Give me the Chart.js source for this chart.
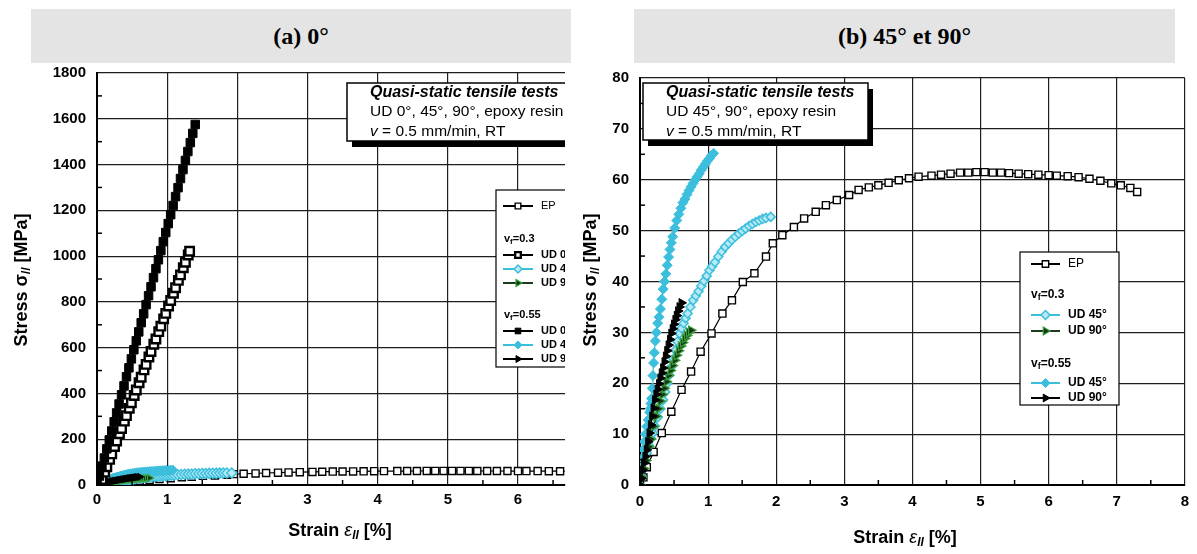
<!DOCTYPE html>
<html><head><meta charset="utf-8">
<script src="https://cdn.jsdelivr.net/npm/chart.js@4.4.0/dist/chart.umd.min.js"></script>
<style>
html,body{margin:0;padding:0;background:#fff;width:1197px;height:554px;overflow:hidden;}
.hdr{position:absolute;top:9px;height:54px;background:#e4e4e4;font:bold 24px "Liberation Serif","Times New Roman",serif;display:flex;align-items:center;justify-content:center;color:#000;z-index:2}
#wrapA{position:absolute;left:0;top:0;width:580px;height:554px}
#wrapB{position:absolute;left:580px;top:0;width:617px;height:554px}
</style></head><body>
<div class="hdr" style="left:31px;width:540px">(a) 0°</div>
<div class="hdr" style="left:634px;width:541px">(b) 45° et 90°</div>
<div id="wrapA"><canvas id="cA" width="580" height="554"></canvas></div>
<div id="wrapB"><canvas id="cB" width="617" height="554"></canvas></div>
<script>
// ---------------- DATA ----------------
const epStrain = [0, 0.05, 0.1, 0.2, 0.32, 0.46, 0.61, 0.75, 0.89, 1.05, 1.21, 1.35, 1.51, 1.68, 1.85, 1.95, 2.09, 2.26, 2.41, 2.58, 2.73, 2.89, 3.07, 3.21, 3.36, 3.5, 3.65, 3.8, 3.95, 4.09, 4.28, 4.42, 4.56, 4.7, 4.82, 4.94, 5.06, 5.18, 5.3, 5.42, 5.56, 5.7, 5.85, 6.0, 6.12, 6.28, 6.44, 6.6, 6.76, 6.92, 7.06, 7.2, 7.3];
const epStress = [0, 1.5, 3.5, 6.5, 10.2, 14.4, 18.7, 22.3, 26.2, 29.8, 33.7, 36.3, 39.9, 41.6, 44.9, 47.5, 49.1, 50.7, 52.4, 53.7, 55.0, 56.0, 57.0, 58.0, 58.5, 58.9, 59.4, 59.9, 60.3, 60.6, 60.8, 61.0, 61.2, 61.4, 61.4, 61.5, 61.5, 61.4, 61.4, 61.3, 61.2, 61.1, 61.0, 60.9, 60.8, 60.7, 60.5, 60.2, 59.8, 59.3, 58.9, 58.4, 57.6];

const ud0v30Strain = [0.04,0.07,0.11,0.14,0.18,0.21,0.25,0.28,0.32,0.35,0.39,0.42,0.46,0.49,0.53,0.56,0.6,0.63,0.67,0.7,0.74,0.77,0.81,0.84,0.88,0.91,0.95,0.98,1.02,1.05,1.09,1.12,1.16,1.19,1.23,1.26,1.3,1.32];
const ud0v30Stress = [0,24,56,80,112,136,168,192,224,247,279,303,335,359,391,415,447,471,503,527,559,583,615,638,670,694,726,750,782,806,838,862,894,918,949,973,1005,1021];

const ud0v55Strain = [0,0.035,0.07,0.105,0.14,0.175,0.21,0.245,0.28,0.315,0.35,0.385,0.42,0.455,0.49,0.525,0.56,0.595,0.63,0.665,0.7,0.735,0.77,0.805,0.84,0.875,0.91,0.945,0.98,1.015,1.05,1.085,1.12,1.155,1.19,1.225,1.26,1.295,1.33,1.365,1.4];
const ud0v55Stress = [0,39,79,118,158,197,236,276,315,354,394,433,473,512,551,591,630,669,709,748,788,827,866,906,945,984,1024,1063,1103,1142,1181,1221,1260,1299,1339,1378,1418,1457,1496,1536,1575];

const ud45v30Strain = [0,0.02,0.04,0.07,0.1,0.13,0.16,0.19,0.22,0.26,0.3,0.34,0.37,0.4,0.43,0.46,0.49,0.52,0.55,0.58,0.61,0.64,0.67,0.7,0.74,0.78,0.82,0.86,0.9,0.94,0.98,1.02,1.06,1.1,1.15,1.2,1.25,1.3,1.35,1.4,1.45,1.5,1.55,1.6,1.65,1.7,1.75,1.8,1.85,1.92];
const ud45v30Stress = [0,1.7,3.2,4.8,6.3,7.8,9.2,10.2,11.6,13.3,15,16.7,18.3,20,21.6,23.2,24.8,26.5,28.2,29.8,30.8,31.8,32.8,33.7,35,36.3,37.2,38.1,39.1,40.1,41.1,42.2,43,43.8,44.9,45.9,46.8,47.5,48.2,48.8,49.4,49.9,50.4,50.9,51.3,51.7,52,52.3,52.5,52.7];

const ud45v55Strain = [0,0.01,0.02,0.035,0.05,0.065,0.08,0.1,0.12,0.14,0.15,0.16,0.17,0.18,0.19,0.2,0.21,0.225,0.24,0.26,0.28,0.3,0.32,0.34,0.36,0.38,0.4,0.42,0.44,0.46,0.48,0.51,0.54,0.57,0.6,0.63,0.66,0.69,0.72,0.75,0.78,0.81,0.84,0.87,0.9,0.93,0.96,0.99,1.02,1.05,1.08];
const ud45v55Stress = [0,1.8,3.5,5.3,7,8.5,10,11.5,12.8,14.3,15,16,17,19,21.5,24,26,28.3,30,31.8,33,34.6,36.5,38.5,40,41.5,43.2,44.8,46.3,47.6,48.8,50.5,52,53.2,54.4,55.5,56.2,57.1,57.9,58.6,59.3,60,60.6,61.2,61.9,62.5,63.1,63.7,64.2,64.8,65.2];

const ud90v30Strain = [0,0.03,0.06,0.09,0.13,0.16,0.2,0.24,0.27,0.3,0.33,0.36,0.39,0.42,0.45,0.48,0.51,0.54,0.57,0.6,0.63,0.66,0.69,0.72,0.75];
const ud90v30Stress = [0,1.5,3.2,4.8,7.5,9,11.5,13.5,15,16.5,17.8,19,20.3,21.5,22.5,23.5,24.5,25.5,26.4,27.3,28,28.8,29.4,30,30.4];

const ud90v55Strain = [0,0.02,0.04,0.06,0.08,0.1,0.12,0.14,0.16,0.18,0.2,0.22,0.24,0.26,0.28,0.3,0.32,0.34,0.36,0.38,0.4,0.42,0.44,0.46,0.48,0.5,0.52,0.54,0.56,0.58,0.61];
const ud90v55Stress = [0,1.3,2.9,4.3,5.6,6.9,8.5,10.2,11.8,13.5,15.1,16.7,17.8,18.8,19.9,21,22,23,24.2,25.3,26.4,27.5,28.6,29.8,30.7,31.6,32.5,33.3,34.2,35,35.8];

const ticksAX = [0,1,2,3,4,5,6];
const ticksAY = [0,200,400,600,800,1000,1200,1400,1600,1800];
const ticksBX = [0,1,2,3,4,5,6,7,8];
const ticksBY = [0,10,20,30,40,50,60,70,80];

const noteA = ['Quasi-static tensile tests', 'UD 0°, 45°, 90°, epoxy resin', ' = 0.5 mm/min, RT'];
const noteB = ['Quasi-static tensile tests', 'UD 45°, 90°, epoxy resin', ' = 0.5 mm/min, RT'];
const legendA = [['item','ep','EP'],['head','=0.3'],['item','ud0v30','UD 0°'],['item','ud45v30','UD 45°'],['item','ud90v30','UD 90°'],['head','=0.55'],['item','ud0v55','UD 0°'],['item','ud45v55','UD 45°'],['item','ud90v55','UD 90°']];
const legendB = [['item','ep','EP'],['head','=0.3'],['item','ud45v30','UD 45°'],['item','ud90v30','UD 90°'],['head','=0.55'],['item','ud45v55','UD 45°'],['item','ud90v55','UD 90°']];

// ---------------- STYLE ----------------
const CYAN = '#3cbfdd';
const FONT = '"Liberation Sans", Arial, sans-serif';
const STY = {
  ep:      {line:'#000', border:'#000', fill:'#fff', style:'rect', rot:0, bw:1.4},
  ud0v30:  {line:'#000', border:'#000', fill:'#fff', style:'rect', rot:0, bw:2.4},
  ud0v55:  {line:'#000', border:'#000', fill:'#000', style:'rect', rot:0, bw:1},
  ud45v30: {line:CYAN, border:CYAN, fill:'#b9e9f5', style:'rectRot', rot:0, bw:1.5},
  ud45v55: {line:CYAN, border:CYAN, fill:CYAN, style:'rectRot', rot:0, bw:1},
  ud90v30: {line:'#1b3d1b', border:'#39a039', fill:'#16361a', style:'triangle', rot:90, bw:1.2},
  ud90v55: {line:'#000', border:'#000', fill:'#000', style:'triangle', rot:90, bw:1}
};
function pts(xs, ys){ return xs.map((x,i)=>({x:x, y:ys[i]})); }
function ds(key, xs, ys, r, order){
  const s = STY[key];
  return {data:pts(xs,ys), showLine:true, borderColor:s.line, borderWidth:1.2,
    pointStyle:s.style, pointRotation:s.rot, pointRadius:r, pointBackgroundColor:s.fill,
    pointBorderColor:s.border, pointBorderWidth:s.bw, order:order};
}

// ---------------- DRAW HELPERS ----------------
function rich(ctx, segs, x, y, align){
  let w = 0;
  segs.forEach(s=>{ctx.font=s.f; w += ctx.measureText(s.t).width;});
  let cx = align==='center' ? x - w/2 : x;
  ctx.textBaseline = 'middle'; ctx.textAlign = 'left';
  segs.forEach(s=>{ctx.font=s.f; ctx.fillText(s.t, cx, y + (s.dy||0)); cx += ctx.measureText(s.t).width;});
}
function marker(ctx, key, r, x, y){
  const s = STY[key];
  ctx.save();
  ctx.fillStyle = s.fill; ctx.strokeStyle = s.border; ctx.lineWidth = s.bw;
  Chart.helpers.drawPoint(ctx, {pointStyle:s.style, radius:r, rotation:s.rot, borderWidth:s.bw}, x, y);
  ctx.restore();
}
function overlay(cfg){
  return {
    id:'overlay',
    afterDraw(chart){
      const ctx = chart.ctx, ca = chart.chartArea, xs = chart.scales.x, ys = chart.scales.y;
      ctx.save();
      // minor ticks
      ctx.strokeStyle = '#000'; ctx.lineWidth = 1.5;
      for (let v = cfg.xMinor; v < xs.max; v += cfg.xMinor*2){
        const px = xs.getPixelForValue(v);
        ctx.beginPath(); ctx.moveTo(px, ca.bottom); ctx.lineTo(px, ca.bottom-5); ctx.stroke();
      }
      for (let v = cfg.yMinor; v < ys.max; v += cfg.yMinor*2){
        const py = ys.getPixelForValue(v);
        ctx.beginPath(); ctx.moveTo(ca.left, py); ctx.lineTo(ca.left+5, py); ctx.stroke();
      }
      // axis titles
      ctx.fillStyle = '#000';
      const B = 'bold 18px '+FONT, I = 'italic 18px '+FONT, S = 'italic bold 12px '+FONT;
      rich(ctx, [{t:'Strain ', f:B},{t:'ε', f:I},{t:'ll', f:S, dy:5},{t:' [%]', f:B}], cfg.xtX, cfg.xtY, 'center');
      ctx.save(); ctx.translate(cfg.ytX, cfg.ytY); ctx.rotate(-Math.PI/2);
      rich(ctx, [{t:'Stress ', f:B},{t:'σ', f:B},{t:'ll', f:S, dy:5},{t:' [MPa]', f:B}], 0, 0, 'center');
      ctx.restore();
      // clip overlays to chart area horizontally
      ctx.beginPath(); ctx.rect(ca.left, 0, ca.right-ca.left, chart.height); ctx.clip();
      // note box
      const nb = cfg.note;
      ctx.fillStyle = '#000';
      ctx.fillRect(nb.x+5, nb.y+6, nb.w, nb.h);
      ctx.fillStyle = '#fff'; ctx.fillRect(nb.x, nb.y, nb.w, nb.h);
      ctx.strokeStyle = '#000'; ctx.lineWidth = 1.5; ctx.strokeRect(nb.x, nb.y, nb.w, nb.h);
      ctx.fillStyle = '#000';
      rich(ctx, [{t:cfg.noteText[0], f:'italic bold 16px '+FONT}], nb.tx, nb.y+10, 'left');
      rich(ctx, [{t:cfg.noteText[1], f:'15.5px '+FONT}], nb.tx, nb.y+29, 'left');
      rich(ctx, [{t:'v', f:'italic 15.5px '+FONT},{t:cfg.noteText[2], f:'15.5px '+FONT}], nb.tx, nb.y+49, 'left');
      // legend
      const lg = cfg.leg;
      ctx.fillStyle = '#fff'; ctx.fillRect(lg.x, lg.y, lg.w, lg.h);
      ctx.strokeStyle = '#000'; ctx.lineWidth = 1.2; ctx.strokeRect(lg.x, lg.y, lg.w, lg.h);
      cfg.legend.forEach((e, i)=>{
        const y = lg.rows[i];
        ctx.fillStyle = '#000';
        if (e[0]==='head'){
          rich(ctx, [{t:'v', f:'bold '+lg.fs+'px '+FONT},{t:'f', f:'bold '+(lg.fs-3)+'px '+FONT, dy:3},{t:e[1], f:'bold '+lg.fs+'px '+FONT}], lg.hx, y, 'left');
        } else {
          const s = STY[e[1]];
          ctx.strokeStyle = s.line; ctx.lineWidth = 2;
          ctx.beginPath(); ctx.moveTo(lg.sx0, y); ctx.lineTo(lg.sx1, y); ctx.stroke();
          marker(ctx, e[1], lg.mr, (lg.sx0+lg.sx1)/2, y);
          ctx.fillStyle = '#000';
          rich(ctx, [{t:e[2], f:(e[1]==='ep'?'':'bold ')+lg.fs+'px '+FONT}], lg.tx, y, 'left');
        }
      });
      ctx.restore();
    }
  };
}
function makeChart(id, cfg){
  const tickFont = {family:FONT, size:15, weight:'bold'};
  return new Chart(document.getElementById(id), {
    type:'scatter',
    data:{datasets:cfg.datasets},
    options:{
      responsive:false, animation:false,
      layout:{padding:{top:cfg.padTop, right:cfg.padRight, left:0, bottom:0}},
      plugins:{legend:{display:false}, tooltip:{enabled:false}},
      scales:{
        x:{type:'linear', min:0, max:cfg.xMax,
          afterBuildTicks:s=>{ s.ticks = cfg.xTicks.map(v=>({value:v})); },
          afterFit:s=>{ s.height = cfg.xH; },
          grid:{color:'#1e1e1e', lineWidth:1.2, drawTicks:false},
          border:{color:'#000', width:2},
          ticks:{padding:cfg.xPad, color:'#000', font:tickFont, maxRotation:0, callback:v=>String(v)}},
        y:{type:'linear', min:0, max:cfg.yMax,
          afterBuildTicks:s=>{ s.ticks = cfg.yTicks.map(v=>({value:v})); },
          afterFit:s=>{ s.width = cfg.yW; },
          grid:{color:'#1e1e1e', lineWidth:1.2, drawTicks:false},
          border:{color:'#000', width:2},
          ticks:{padding:11, color:'#000', font:tickFont, callback:v=>String(v)}}
      }
    },
    plugins:[overlay(cfg)]
  });
}

// ---------------- CHART A (0°) ----------------
makeChart('cA', {
  datasets:[
    ds('ud0v55', ud0v55Strain, ud0v55Stress, 6, 1),
    ds('ud0v30', ud0v30Strain, ud0v30Stress, 6, 2),
    ds('ud90v55', ud90v55Strain, ud90v55Stress, 4, 3),
    ds('ud90v30', ud90v30Strain, ud90v30Stress, 4, 4),
    ds('ud45v55', ud45v55Strain, ud45v55Stress, 5, 5),
    ds('ud45v30', ud45v30Strain, ud45v30Stress, 5, 6),
    ds('ep', epStrain, epStress, 5, 10)
  ],
  padTop:73, padRight:15, xMax:6.67, yMax:1800, xTicks:ticksAX, yTicks:ticksAY,
  xH:69, yW:97, xPad:6, xMinor:0.5, yMinor:100,
  xtX:340, xtY:531, ytX:22, ytY:280,
  note:{x:347, y:83, w:260, h:58, tx:370}, noteText:noteA,
  leg:{x:496, y:190, w:120, h:177, rows:[206,239,255,269,283,315,331,345,359], sx0:503, sx1:533, tx:541, hx:504, fs:11, mr:4},
  legend:legendA
});

// ---------------- CHART B (45° / 90°) ----------------
makeChart('cB', {
  datasets:[
    ds('ud90v55', ud90v55Strain, ud90v55Stress, 5, 1),
    ds('ud90v30', ud90v30Strain, ud90v30Stress, 5, 2),
    ds('ud45v55', ud45v55Strain, ud45v55Stress, 5, 3),
    ds('ud45v30', ud45v30Strain, ud45v30Stress, 4.5, 4),
    ds('ep', epStrain, epStress, 5, 10)
  ],
  padTop:78, padRight:9, xMax:8, yMax:80, xTicks:ticksBX, yTicks:ticksBY,
  xH:69, yW:60, xPad:8, xMinor:0.5, yMinor:5,
  xtX:325, xtY:538, ytX:11, ytY:280,
  note:{x:63, y:83, w:225, h:57, tx:86}, noteText:noteB,
  leg:{x:440, y:252, w:99, h:153, rows:[264,295,315,331,364,383,398], sx0:451, sx1:480, tx:488, hx:451, fs:12, mr:4.5},
  legend:legendB
});
</script>
</body></html>
